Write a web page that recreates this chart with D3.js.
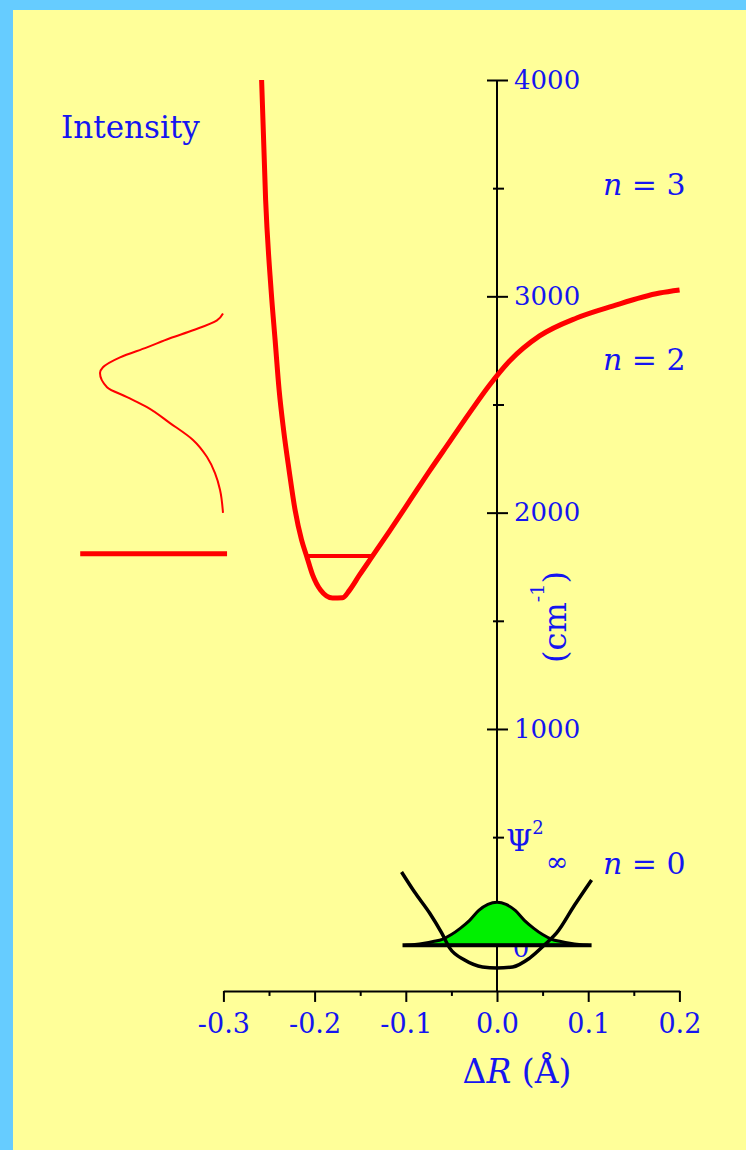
<!DOCTYPE html>
<html>
<head>
<meta charset="utf-8">
<script src="https://cdn.jsdelivr.net/npm/d3@7"></script>
<style>
  html, body { margin: 0; padding: 0; background: #66ccff; }
  svg { display: block; }
  text { font-family: "DejaVu Serif", "Liberation Serif", serif; fill: #1515f0; white-space: pre; }
</style>
</head>
<body>
<svg id="chart" width="746" height="1150"></svg>
<script>
// ---- axis ticks -------------------------------------------------------
const xTicks = [-0.3, -0.2, -0.1, 0.0, 0.1, 0.2];
const xTickLabels = ["-0.3", "-0.2", "-0.1", "0.0", "0.1", "0.2"];
const xMinorTicks = [-0.25, -0.15, -0.05, 0.05, 0.15];
const yTicks = [1000, 2000, 3000, 4000];
const yTickLabels = ["1000", "2000", "3000", "4000"];
const yMinorTicks = [500, 1500, 2500, 3500];
const axisFloorE = -211;            // energy at which the ΔR axis crosses

// ---- excited-state potential (ΔR in Å, energy in cm-1) ----------------
const excitedR = [-0.2581, -0.2537, -0.2477, -0.2433, -0.2389, -0.2340, -0.2280, -0.2214,
                  -0.2143, -0.2088, -0.2022, -0.1935, -0.1803, -0.1693, -0.1616, -0.1507,
                  -0.1364, -0.1178, -0.0958, -0.0739, -0.0520, -0.0301, -0.0081, 0.0138,
                  0.0467, 0.0873, 0.1268, 0.1783, 0.2002];
const excitedE = [4000, 3446, 3029, 2798, 2567, 2382, 2197, 2012,
                  1874, 1800, 1712, 1642, 1605, 1607, 1642, 1712,
                  1800, 1915, 2054, 2193, 2327, 2461, 2590, 2701,
                  2817, 2900, 2955, 3015, 3029];

// vibrational level inside the excited well and its copy beside the profile
const wellLevelR = [-0.2088, -0.1364];
const wellLevelE = 1800;
const sideLevelR = [-0.457, -0.296];
const sideLevelE = 1810;

// ---- intensity profile (energy in cm-1, relative intensity) -----------
const profileE = [2921, 2889, 2843, 2806, 2764, 2718, 2672, 2645, 2580, 2534,
                  2488, 2414, 2336, 2257, 2183, 2105, 1999];
const profileI = [0.0, 0.049, 0.244, 0.431, 0.618, 0.837, 0.976, 1.0, 0.943, 0.780,
                  0.618, 0.431, 0.244, 0.130, 0.065, 0.024, 0.0];

// ---- ground-state potential, n = 0 level and Ψ² -----------------------
const groundR = [-0.1047, -0.0904, -0.0739, -0.0607, -0.0520, -0.0355, -0.0158, 0.0,
                 0.0171, 0.0358, 0.0544, 0.0654, 0.0851, 0.1037];
const groundE = [339, 246, 149, 57, -12, -68, -100, -105,
                 -100, -59, 11, 57, 186, 302];
const zeroLevelR = [-0.1036, 0.1037];
const zeroLevelE = 0;
const psiR = [-0.10, -0.09, -0.08, -0.07, -0.06, -0.05, -0.04, -0.03, -0.02, -0.01, 0.0,
              0.01, 0.02, 0.03, 0.04, 0.05, 0.06, 0.07, 0.08, 0.09, 0.10];
const psiSq = [0.0, 0.02, 0.05, 0.09, 0.14, 0.25, 0.40, 0.58, 0.81, 0.95, 1.0,
               0.95, 0.81, 0.58, 0.40, 0.25, 0.14, 0.09, 0.05, 0.02, 0.0];

// ---- drawing ----------------------------------------------------------
const svg = d3.select("#chart");
svg.append("rect").attr("width", 746).attr("height", 1150).attr("fill", "#66ccff");
svg.append("rect").attr("x", 13).attr("y", 10).attr("width", 733).attr("height", 1140).attr("fill", "#ffff99");

const x = d3.scaleLinear().domain([-0.3, 0.2]).range([223.4, 679.4]);
const y = d3.scaleLinear().domain([0, 4000]).range([945.3, 80]);
const intX = d3.scaleLinear().domain([0, 1]).range([223, 100]);
const psiH = d3.scaleLinear().domain([0, 1]).range([0, 43]);

const blue = "#1515f0";

function styleAxis(g, fontSize) {
  g.attr("font-family", null).attr("font-size", null).attr("color", "#000");
  g.selectAll(".tick line").attr("stroke-width", 2);
  g.selectAll(".tick text").attr("fill", blue).style("font-size", fontSize + "px");
}

// ΔR axis
const xAxisY = y(axisFloorE);
const gx = svg.append("g").attr("transform", `translate(0,${xAxisY})`)
  .call(d3.axisBottom(x).tickValues(xTicks).tickSize(11).tickSizeOuter(0).tickPadding(12)
        .tickFormat((d, i) => xTickLabels[i]));
styleAxis(gx, 27);
gx.select(".domain").attr("stroke-width", 2);
const gxm = svg.append("g").attr("transform", `translate(0,${xAxisY})`)
  .call(d3.axisBottom(x).tickValues(xMinorTicks).tickSize(5).tickFormat(""));
styleAxis(gxm, 27);
gxm.select(".domain").remove();

// energy axis (ticks cross the line)
const axisX = x(0);
svg.append("line").attr("x1", axisX).attr("x2", axisX)
  .attr("y1", y(4000)).attr("y2", xAxisY).attr("stroke", "#000").attr("stroke-width", 2);
const gy = svg.append("g").attr("transform", `translate(${axisX},0)`)
  .call(d3.axisRight(y).tickValues(yTicks).tickSize(11).tickPadding(6)
        .tickFormat((d, i) => yTickLabels[i]));
styleAxis(gy, 26);
gy.select(".domain").remove();
gy.selectAll(".tick line").attr("x1", -10);
const gym = svg.append("g").attr("transform", `translate(${axisX},0)`)
  .call(d3.axisRight(y).tickValues(yMinorTicks).tickSize(7).tickFormat(""));
styleAxis(gym, 26);
gym.select(".domain").remove();
gym.selectAll(".tick line").attr("x1", -4);

// small label partly hidden under Ψ²
svg.append("text").attr("x", 521).attr("y", 957).attr("text-anchor", "middle")
  .style("font-size", "26px").text("0");

// Ψ² of the n = 0 level
const psiData = psiR.map((r, i) => ({ r, v: psiSq[i] }));
svg.append("path").datum(psiData)
  .attr("d", d3.area().x(d => x(d.r)).y0(y(zeroLevelE)).y1(d => y(zeroLevelE) - psiH(d.v))
        .curve(d3.curveMonotoneX))
  .attr("fill", "#00f000").attr("stroke", "#000").attr("stroke-width", 3).attr("stroke-linejoin", "round");

// ground-state potential
const groundData = groundR.map((r, i) => ({ r, e: groundE[i] }));
svg.append("path").datum(groundData)
  .attr("d", d3.line().x(d => x(d.r)).y(d => y(d.e)).curve(d3.curveMonotoneX))
  .attr("fill", "none").attr("stroke", "#000").attr("stroke-width", 3.5);

// n = 0 level
svg.append("line").attr("x1", x(zeroLevelR[0])).attr("x2", x(zeroLevelR[1]))
  .attr("y1", y(zeroLevelE)).attr("y2", y(zeroLevelE)).attr("stroke", "#000").attr("stroke-width", 4);

// excited-state potential
const excitedData = excitedR.map((r, i) => ({ r, e: excitedE[i] }));
svg.append("path").datum(excitedData)
  .attr("d", d3.line().x(d => x(d.r)).y(d => y(d.e)).curve(d3.curveMonotoneX))
  .attr("fill", "none").attr("stroke", "#ff0000").attr("stroke-width", 5).attr("stroke-linejoin", "round");

svg.append("line").attr("x1", x(wellLevelR[0])).attr("x2", x(wellLevelR[1]))
  .attr("y1", y(wellLevelE)).attr("y2", y(wellLevelE)).attr("stroke", "#ff0000").attr("stroke-width", 4);
svg.append("line").attr("x1", x(sideLevelR[0])).attr("x2", x(sideLevelR[1]))
  .attr("y1", y(sideLevelE)).attr("y2", y(sideLevelE)).attr("stroke", "#ff0000").attr("stroke-width", 5);

// intensity profile
const profileData = profileE.map((e, i) => ({ e, v: profileI[i] }));
svg.append("path").datum(profileData)
  .attr("d", d3.line().x(d => intX(d.v)).y(d => y(d.e)).curve(d3.curveMonotoneY))
  .attr("fill", "none").attr("stroke", "#ff0000").attr("stroke-width", 2);

// ---- labels -----------------------------------------------------------
svg.append("text").attr("x", 61).attr("y", 138).style("font-size", "31px").text("Intensity");

function levelLabel(n, yy) {
  const t = svg.append("text").attr("x", 603).attr("y", yy).style("font-size", "30px");
  t.append("tspan").style("font-style", "italic").text("n");
  t.append("tspan").text(" = " + n);
}
levelLabel(3, 195);
levelLabel(2, 370);
levelLabel(0, 874);

const xl = svg.append("text").attr("x", 517).attr("y", 1083).attr("text-anchor", "middle")
  .style("font-size", "33px");
xl.append("tspan").text("Δ");
xl.append("tspan").style("font-style", "italic").text("R");
xl.append("tspan").text(" (Å)");

const yl = svg.append("text").attr("transform", "translate(566,617) rotate(-90)")
  .attr("text-anchor", "middle").style("font-size", "32px");
yl.append("tspan").text("(cm");
yl.append("tspan").attr("dy", -22).style("font-size", "19px").text("-1");
yl.append("tspan").attr("dy", 22).text(")");

const psiLabel = svg.append("text").attr("x", 506).attr("y", 851).style("font-size", "30px");
psiLabel.append("tspan").text("Ψ");
psiLabel.append("tspan").attr("dy", -17).style("font-size", "18px").text("2");

svg.append("text").attr("x", 557).attr("y", 871).attr("text-anchor", "middle")
  .style("font-size", "27px").text("∞");
</script>
</body>
</html>
